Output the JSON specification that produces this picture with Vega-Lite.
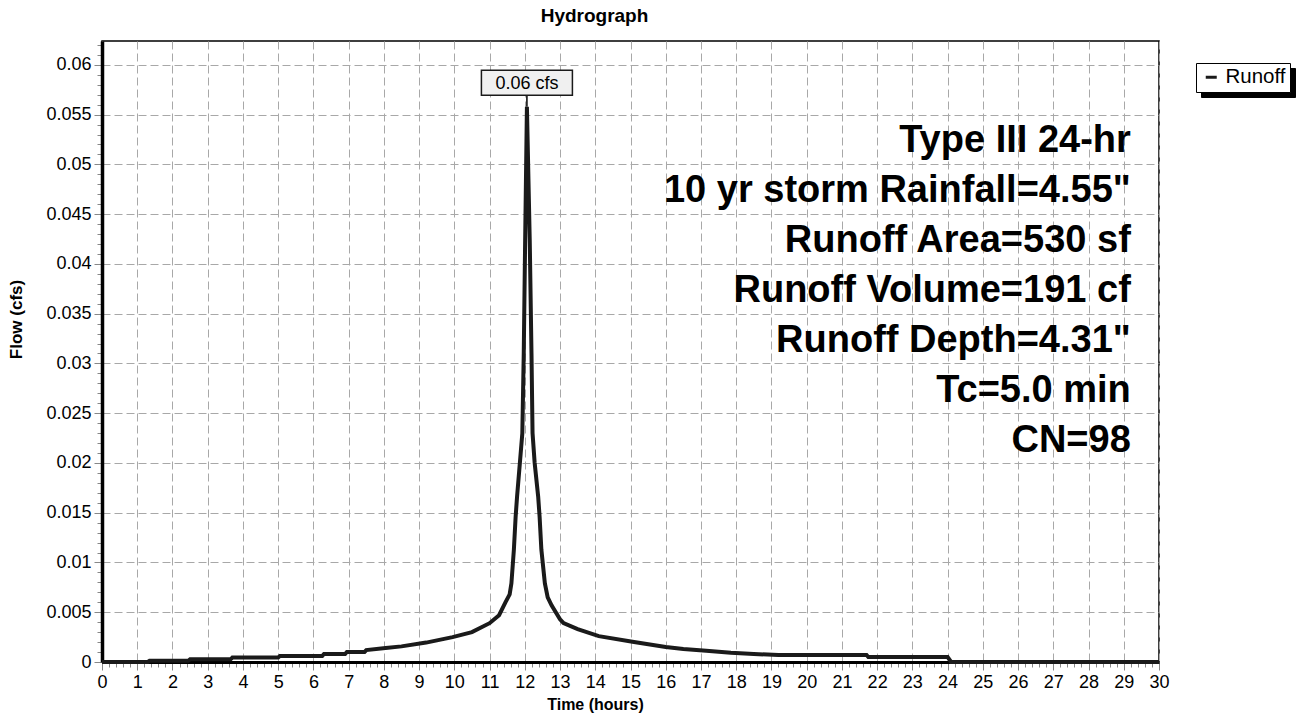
{
  "$schema": "https://vega.github.io/schema/vega-lite/v6.json",
  "width": 1057,
  "height": 621,
  "autosize": {"type": "none"},
  "padding": {"left": 102, "top": 41, "right": 137, "bottom": 55},
  "background": "white",
  "title": {"text": "Hydrograph", "font": "Liberation Sans", "fontSize": 19, "fontWeight": "bold", "color": "black", "anchor": "middle", "dx": -36, "baseline": "alphabetic", "offset": -5},
  "config": {
    "view": {"stroke": "black", "strokeWidth": 1.5},
    "font": "Liberation Sans"
  },
  "datasets": {
    "flow": [
      {"t": 0, "q": 0}, {"t": 1.3, "q": 0}, {"t": 1.35, "q": 0.00012}, {"t": 2.45, "q": 0.00012},
      {"t": 2.5, "q": 0.00027}, {"t": 3.65, "q": 0.00027}, {"t": 3.7, "q": 0.00045}, {"t": 5.0, "q": 0.00045},
      {"t": 5.05, "q": 0.0006}, {"t": 6.25, "q": 0.0006}, {"t": 6.3, "q": 0.0008}, {"t": 6.9, "q": 0.0008},
      {"t": 6.95, "q": 0.001}, {"t": 7.45, "q": 0.001}, {"t": 7.5, "q": 0.0012}, {"t": 8.05, "q": 0.0014},
      {"t": 8.5, "q": 0.00157}, {"t": 9.2, "q": 0.00195}, {"t": 9.95, "q": 0.0025}, {"t": 10.5, "q": 0.003},
      {"t": 11.0, "q": 0.0039}, {"t": 11.27, "q": 0.0047}, {"t": 11.45, "q": 0.006}, {"t": 11.57, "q": 0.0068},
      {"t": 11.62, "q": 0.0079}, {"t": 11.69, "q": 0.0113}, {"t": 11.74, "q": 0.0146}, {"t": 11.78, "q": 0.0166},
      {"t": 11.86, "q": 0.02}, {"t": 11.93, "q": 0.023}, {"t": 11.97, "q": 0.031}, {"t": 12.01, "q": 0.0424},
      {"t": 12.06, "q": 0.0558}, {"t": 12.14, "q": 0.0424}, {"t": 12.19, "q": 0.031}, {"t": 12.22, "q": 0.023},
      {"t": 12.28, "q": 0.02}, {"t": 12.38, "q": 0.0166}, {"t": 12.42, "q": 0.0146}, {"t": 12.47, "q": 0.0113},
      {"t": 12.57, "q": 0.0079}, {"t": 12.65, "q": 0.0065}, {"t": 12.76, "q": 0.0057}, {"t": 13.0, "q": 0.0043},
      {"t": 13.1, "q": 0.0039}, {"t": 13.5, "q": 0.0033}, {"t": 14.1, "q": 0.0026}, {"t": 15.1, "q": 0.002},
      {"t": 16.0, "q": 0.0015}, {"t": 16.5, "q": 0.0013}, {"t": 17.15, "q": 0.00114}, {"t": 17.85, "q": 0.00092},
      {"t": 18.5, "q": 0.0008}, {"t": 19.2, "q": 0.0007}, {"t": 21.7, "q": 0.0007}, {"t": 21.75, "q": 0.0005},
      {"t": 24.0, "q": 0.0005}, {"t": 24.1, "q": 0}, {"t": 30, "q": 0}
    ],
    "peak": [{"t": 12.06, "q": 0.0558, "label": "0.06 cfs"}],
    "notes": [{"note": "Type III 24-hr\n10 yr storm Rainfall=4.55\"\nRunoff Area=530 sf\nRunoff Volume=191 cf\nRunoff Depth=4.31\"\nTc=5.0 min\nCN=98"}]
  },
  "layer": [
    {
      "data": {"name": "peak"},
      "mark": {"type": "rule", "strokeWidth": 1.5},
      "encoding": {
        "x": {"field": "t", "type": "quantitative"},
        "y": {"field": "q", "type": "quantitative"},
        "y2": {"datum": 0.0569},
        "color": {
          "datum": "Shadow",
          "scale": {"range": ["black"]},
          "legend": {
            "title": null, "orient": "none", "legendX": 1099, "legendY": 27,
            "fillColor": "black", "strokeColor": "black", "padding": 4,
            "symbolType": "stroke", "symbolSize": 121, "symbolStrokeWidth": 3, "symbolOffset": 1,
            "labelExpr": "'Runoff'",
            "labelFont": "Liberation Sans", "labelFontSize": 20.5, "labelColor": "black", "labelOffset": 4
          }
        }
      }
    },
    {
      "data": {"name": "flow"},
      "mark": {"type": "line", "strokeWidth": 4, "interpolate": "linear"},
      "encoding": {
        "x": {
          "field": "t", "type": "quantitative",
          "scale": {"domain": [0, 30], "nice": false, "zero": false},
          "axis": {
            "title": "Time  (hours)",
            "titleFont": "Liberation Sans", "titleFontSize": 16, "titleFontWeight": "bold", "titleColor": "black", "titlePadding": 5, "titleX": 493,
            "tickCount": 1000,
            "values": [0,0.2,0.4,0.6,0.8,1,1.2,1.4,1.6,1.8,2,2.2,2.4,2.6,2.8,3,3.2,3.4,3.6,3.8,4,4.2,4.4,4.6,4.8,5,5.2,5.4,5.6,5.8,6,6.2,6.4,6.6,6.8,7,7.2,7.4,7.6,7.8,8,8.2,8.4,8.6,8.8,9,9.2,9.4,9.6,9.8,10,10.2,10.4,10.6,10.8,11,11.2,11.4,11.6,11.8,12,12.2,12.4,12.6,12.8,13,13.2,13.4,13.6,13.8,14,14.2,14.4,14.6,14.8,15,15.2,15.4,15.6,15.8,16,16.2,16.4,16.6,16.8,17,17.2,17.4,17.6,17.8,18,18.2,18.4,18.6,18.8,19,19.2,19.4,19.6,19.8,20,20.2,20.4,20.6,20.8,21,21.2,21.4,21.6,21.8,22,22.2,22.4,22.6,22.8,23,23.2,23.4,23.6,23.8,24,24.2,24.4,24.6,24.8,25,25.2,25.4,25.6,25.8,26,26.2,26.4,26.6,26.8,27,27.2,27.4,27.6,27.8,28,28.2,28.4,28.6,28.8,29,29.2,29.4,29.6,29.8,30],
            "format": "~g",
            "labelExpr": "datum.value === round(datum.value) ? datum.label : ''",
            "labelFont": "Liberation Sans", "labelFontSize": 18, "labelColor": "black", "labelPadding": 3,
            "labelOverlap": false, "labelFlush": false,
            "domainColor": "black", "domainWidth": 3,
            "tickColor": "#888888", "tickWidth": 1,
            "tickSize": {"condition": {"test": "datum.value === round(datum.value)", "value": 8}, "value": 5},
            "grid": true, "gridColor": "#a8a8a8", "gridDash": [8, 4], "gridWidth": 1,
            "gridOpacity": {"condition": {"test": "datum.value === round(datum.value)", "value": 1}, "value": 0}
          }
        },
        "y": {
          "field": "q", "type": "quantitative",
          "scale": {"domain": [0, 0.0624], "nice": false, "zero": true},
          "axis": {
            "title": "Flow  (cfs)",
            "titleFont": "Liberation Sans", "titleFontSize": 17, "titleFontWeight": "bold", "titleColor": "black", "titlePadding": 20, "titleY": 278,
            "tickCount": 1000,
            "values": [0,0.001,0.002,0.003,0.004,0.005,0.006,0.007,0.008,0.009,0.01,0.011,0.012,0.013,0.014,0.015,0.016,0.017,0.018,0.019,0.02,0.021,0.022,0.023,0.024,0.025,0.026,0.027,0.028,0.029,0.03,0.031,0.032,0.033,0.034,0.035,0.036,0.037,0.038,0.039,0.04,0.041,0.042,0.043,0.044,0.045,0.046,0.047,0.048,0.049,0.05,0.051,0.052,0.053,0.054,0.055,0.056,0.057,0.058,0.059,0.06,0.061,0.062],
            "format": "~g",
            "labelExpr": "round(datum.value * 1000) % 5 === 0 ? datum.label : ''",
            "labelFont": "Liberation Sans", "labelFontSize": 18, "labelColor": "black", "labelPadding": 3,
            "labelOverlap": false, "labelFlush": false,
            "domainColor": "black", "domainWidth": 3.5,
            "tickColor": "#888888", "tickWidth": 1,
            "tickSize": {"condition": {"test": "round(datum.value * 1000) % 5 === 0", "value": 8}, "value": 5},
            "grid": true, "gridColor": "#a8a8a8", "gridDash": [8, 4], "gridWidth": 1,
            "gridOpacity": {"condition": {"test": "round(datum.value * 1000) % 5 === 0", "value": 1}, "value": 0}
          }
        },
        "stroke": {
          "datum": "Runoff",
          "scale": {"range": ["#1a1a1a"]},
          "legend": {
            "title": null, "orient": "none", "legendX": 1094, "legendY": 22,
            "fillColor": "white", "strokeColor": "black", "padding": 4,
            "symbolType": "stroke", "symbolSize": 121, "symbolStrokeWidth": 3, "symbolOffset": 1,
            "labelFont": "Liberation Sans", "labelFontSize": 20.5, "labelColor": "black", "labelOffset": 4
          }
        }
      }
    },
    {
      "data": {"name": "peak"},
      "mark": {"type": "rect", "width": 91, "height": 25, "fill": "#f0f0f0", "stroke": "#1a1a1a", "strokeWidth": 1.5, "yOffset": -24},
      "encoding": {
        "x": {"field": "t", "type": "quantitative"},
        "y": {"field": "q", "type": "quantitative"}
      }
    },
    {
      "data": {"name": "peak"},
      "mark": {"type": "text", "font": "Liberation Sans", "fontSize": 18, "color": "black", "align": "center", "baseline": "middle", "yOffset": -23},
      "encoding": {
        "x": {"field": "t", "type": "quantitative"},
        "y": {"field": "q", "type": "quantitative"},
        "text": {"field": "label"}
      }
    },
    {
      "data": {"name": "notes"},
      "mark": {"type": "text", "font": "Liberation Sans", "fontSize": 38, "fontWeight": "bold", "color": "black", "align": "right", "baseline": "alphabetic", "lineBreak": "\n", "lineHeight": 50},
      "encoding": {
        "x": {"datum": 29.2, "type": "quantitative"},
        "y": {"datum": 0.0512, "type": "quantitative"},
        "text": {"field": "note"}
      }
    }
  ]
}
